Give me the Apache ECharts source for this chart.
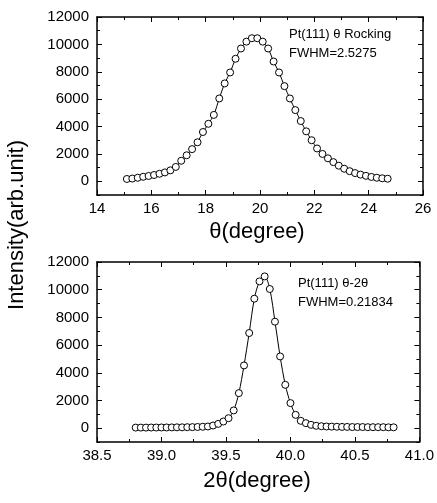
<!DOCTYPE html>
<html>
<head>
<meta charset="utf-8">
<script src="https://cdn.jsdelivr.net/npm/echarts@6/dist/echarts.min.js"></script>
<style>
  html, body { margin: 0; padding: 0; background: #fff; }
  #chart { width: 437px; height: 503px; }
</style>
</head>
<body>
<div id="chart"></div>
<script>
// rocking curve (theta scan)
var thetaX = [15.1, 15.3, 15.5, 15.7, 15.9, 16.1, 16.3, 16.5, 16.7, 16.9,
  17.1, 17.3, 17.5, 17.7, 17.9, 18.1, 18.3, 18.5, 18.7, 18.9,
  19.1, 19.3, 19.5, 19.7, 19.9, 20.1, 20.3, 20.5, 20.7, 20.9,
  21.1, 21.3, 21.5, 21.7, 21.9, 22.1, 22.3, 22.5, 22.7, 22.9,
  23.1, 23.3, 23.5, 23.7, 23.9, 24.1, 24.3, 24.5, 24.7];
var thetaY = [170, 200, 260, 330, 390, 460, 550, 650, 800, 1050,
  1500, 1900, 2350, 2850, 3600, 4200, 4850, 6050, 7150, 7950,
  8950, 9700, 10200, 10450, 10450, 10200, 9700, 8750, 7950, 6950,
  6050, 5200, 4400, 3650, 3000, 2400, 2000, 1680, 1400, 1140,
  920, 740, 600, 490, 400, 320, 260, 220, 190];

// theta-2theta scan
var twoThetaX = [38.80, 38.84, 38.88, 38.92, 38.96, 39.00, 39.04, 39.08, 39.12, 39.16,
  39.20, 39.24, 39.28, 39.32, 39.36, 39.40, 39.44, 39.48, 39.52, 39.56,
  39.60, 39.64, 39.68, 39.72, 39.76, 39.80, 39.84, 39.88, 39.92, 39.96,
  40.00, 40.04, 40.08, 40.12, 40.16, 40.20, 40.24, 40.28, 40.32, 40.36,
  40.40, 40.44, 40.48, 40.52, 40.56, 40.60, 40.64, 40.68, 40.72, 40.76, 40.80];
var twoThetaY = [40, 40, 40, 45, 45, 50, 50, 55, 60, 60,
  70, 75, 85, 100, 120, 190, 310, 480, 720, 1280,
  2530, 4530, 6870, 9350, 10600, 10960, 10050, 7690, 5180, 3130,
  1810, 960, 530, 360, 240, 170, 140, 120, 110, 100,
  90, 90, 80, 80, 80, 70, 70, 70, 70, 60, 60];

var majorY = [0, 2000, 4000, 6000, 8000, 10000, 12000];
var minorY = [-1000, 1000, 3000, 5000, 7000, 9000, 11000];

var font = 'Liberation Sans, Arial, sans-serif';

function pairs(xs, ys) {
  return xs.map(function (x, i) { return [x, ys[i]]; });
}

function xAxes(grid, min, max, interval, digits) {
  var base = {
    gridIndex: grid, type: 'value', min: min, max: max, interval: interval,
    splitLine: { show: false },
    axisLine: { show: true, onZero: false, lineStyle: { color: '#000', width: 1.5 } },
    axisTick: { show: true, inside: true, length: 5, lineStyle: { color: '#000' } },
    minorTick: { show: true, splitNumber: 2, length: 3, lineStyle: { color: '#000' } }
  };
  var bottom = Object.assign({}, base, {
    position: 'bottom',
    axisLabel: {
      color: '#000', fontSize: 15, fontFamily: font, margin: 6,
      formatter: function (v) { return v.toFixed(digits); }
    }
  });
  var top = Object.assign({}, base, { position: 'top', axisLabel: { show: false } });
  return [bottom, top];
}

function yAxes(grid) {
  var list = [];
  ['left', 'right'].forEach(function (side) {
    list.push({
      gridIndex: grid, type: 'value', position: side, min: -1000, max: 12000, interval: 1000,
      splitLine: { show: false },
      axisLine: { show: true, onZero: false, lineStyle: { color: '#000', width: 1.5 } },
      axisTick: { show: true, inside: true, length: 5, customValues: majorY, lineStyle: { color: '#000' } },
      axisLabel: side == 'left'
        ? {
          show: true, customValues: majorY, color: '#000', fontSize: 15, fontFamily: font, margin: 8,
          formatter: function (v) { return String(v); }
        }
        : { show: false }
    });
    list.push({
      gridIndex: grid, type: 'value', position: side, min: -1000, max: 12000, interval: 1000,
      splitLine: { show: false },
      axisLine: { show: false },
      axisTick: { show: true, inside: true, length: 3, customValues: minorY, lineStyle: { color: '#000' } },
      axisLabel: { show: false }
    });
  });
  return list;
}

function dataSeries(xi, yi, data) {
  return {
    type: 'line', xAxisIndex: xi, yAxisIndex: yi, data: data,
    smooth: 0.3, symbol: 'circle', symbolSize: 7,
    lineStyle: { color: '#000', width: 1 },
    itemStyle: { color: '#fff', borderColor: '#000', borderWidth: 1 },
    animation: false
  };
}

function label(x, y, text, size) {
  return {
    type: 'text', x: x, y: y,
    style: { text: text, fill: '#000', font: size + 'px ' + font, textVerticalAlign: 'middle' }
  };
}

var chart = echarts.init(document.getElementById('chart'));
chart.setOption({
  backgroundColor: '#fff',
  animation: false,
  grid: [
    { left: 97, right: 14, top: 17, height: 178 },
    { left: 97, right: 15, top: 262, height: 180 }
  ],
  xAxis: xAxes(0, 14, 26, 2, 0).concat(xAxes(1, 38.5, 41, 0.5, 1)),
  yAxis: yAxes(0).concat(yAxes(1)),
  series: [
    dataSeries(0, 0, pairs(thetaX, thetaY)),
    dataSeries(2, 4, pairs(twoThetaX, twoThetaY))
  ],
  graphic: [
    label(289, 34, 'Pt(111) θ Rocking', 13),
    label(289, 53, 'FWHM=2.5275', 13),
    label(298, 283, 'Pt(111) θ-2θ', 13),
    label(298, 302, 'FWHM=0.21834', 13),
    {
      type: 'text', x: 257, y: 232,
      style: { text: 'θ(degree)', fill: '#000', font: '22px ' + font, textAlign: 'center', textVerticalAlign: 'middle' }
    },
    {
      type: 'text', x: 257, y: 481,
      style: { text: '2θ(degree)', fill: '#000', font: '22px ' + font, textAlign: 'center', textVerticalAlign: 'middle' }
    },
    {
      type: 'text', x: 17, y: 225, rotation: Math.PI / 2,
      style: { text: 'Intensity(arb.unit)', fill: '#000', font: '22px ' + font, textAlign: 'center', textVerticalAlign: 'middle' }
    }
  ]
});
</script>
</body>
</html>
